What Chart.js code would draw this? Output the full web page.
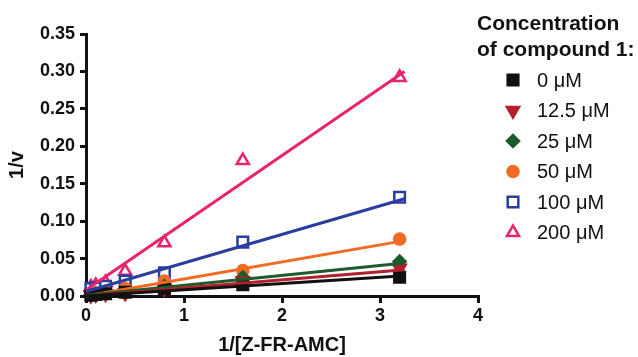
<!DOCTYPE html>
<html>
<head>
<meta charset="utf-8">
<script src="https://cdn.jsdelivr.net/npm/chart.js@4.4.1/dist/chart.umd.min.js"></script>
<style>
  html, body { margin: 0; padding: 0; background: #fff; }
  #wrap { width: 638px; height: 357px; }
</style>
</head>
<body>
<div id="wrap"><canvas id="chart" width="638" height="357"></canvas></div>
<script>
// 1/[Z-FR-AMC] values
const xVals = [0.05, 0.1, 0.2, 0.4, 0.8, 1.6, 3.2];

// 1/v for each inhibitor concentration
const conc = ['0 \u03BCM', '12.5 \u03BCM', '25 \u03BCM', '50 \u03BCM', '100 \u03BCM', '200 \u03BCM'];
const v0   = [0.001, 0.002, 0.003, 0.005, 0.010, 0.015, 0.025];
const v125 = [0.001, 0.002, 0.003, 0.004, 0.010, 0.020, 0.037];
const v25  = [0.002, 0.003, 0.004, 0.004, 0.013, 0.025, 0.046];
const v50  = [0.003, 0.004, 0.006, 0.010, 0.020, 0.034, 0.076];
const v100 = [0.010, 0.011, 0.013, 0.020, 0.031, 0.072, 0.132];
const v200 = [0.012, 0.014, 0.018, 0.033, 0.071, 0.181, 0.292];

// fitted lines, ends
const fitX = [0, 3.25];
const fit0   = [0.000, 0.027];
const fit125 = [0.000, 0.035];
const fit25  = [0.001, 0.044];
const fit50  = [0.000, 0.074];
const fit100 = [0.006, 0.130];
const fit200 = [0.008, 0.300];

const yTicks = [0, 0.05, 0.10, 0.15, 0.20, 0.25, 0.30, 0.35];

const colors = ['#111111', '#b3202b', '#1d5a2c', '#f26b22', '#2a3f9d', '#e8246e'];
const styles = [
  { pointStyle: 'rect', radius: 7.5, rotation: 0, fill: true },
  { pointStyle: 'triangle', radius: 7, rotation: 180, fill: true },
  { pointStyle: 'rectRot', radius: 6, rotation: 0, fill: true },
  { pointStyle: 'circle', radius: 5.5, rotation: 0, fill: true },
  { pointStyle: 'rect', radius: 7.5, rotation: 0, fill: false },
  { pointStyle: 'triangle', radius: 7, rotation: 0, fill: false }
];
const series = [v0, v125, v25, v50, v100, v200];
const fits = [fit0, fit125, fit25, fit50, fit100, fit200];

const FONT = "'Liberation Sans', Arial, sans-serif";

const datasets = [];
fits.forEach((f, i) => {
  datasets.push({
    label: 'fit ' + conc[i],
    data: fitX.map((x, j) => ({ x: x, y: f[j] })),
    showLine: true,
    borderColor: colors[i],
    borderWidth: 3,
    pointRadius: 0,
    fill: false,
    clip: false
  });
});
series.forEach((s, i) => {
  const st = styles[i];
  datasets.push({
    label: conc[i],
    data: xVals.map((x, j) => ({ x: x, y: s[j] })),
    showLine: false,
    pointStyle: st.pointStyle,
    pointRotation: st.rotation,
    pointRadius: st.radius,
    pointBorderWidth: 2.5,
    pointBorderColor: colors[i],
    pointBackgroundColor: st.fill ? colors[i] : '#ffffff',
    clip: false
  });
});

// legend drawn on the canvas, to the right of the plot
const sideLegend = {
  id: 'sideLegend',
  afterDraw(c) {
    const ctx = c.ctx;
    ctx.save();
    ctx.fillStyle = '#111';
    ctx.textBaseline = 'middle';
    ctx.textAlign = 'left';
    ctx.font = 'bold 21px ' + FONT;
    ctx.fillText('Concentration', 477, 24);
    ctx.fillText('of compound 1:', 477, 50);
    ctx.font = '20px ' + FONT;
    conc.forEach((lab, i) => {
      const y = 80 + i * 30.5;
      const st = styles[i];
      ctx.strokeStyle = colors[i];
      ctx.fillStyle = st.fill ? colors[i] : '#ffffff';
      ctx.lineWidth = 2.5;
      Chart.helpers.drawPoint(ctx, {
        pointStyle: st.pointStyle,
        radius: st.radius,
        rotation: st.rotation,
        borderWidth: 2.5
      }, 513, y);
      ctx.fillStyle = '#111';
      ctx.fillText(lab, 537, y + 1);
    });
    ctx.restore();
  }
};

chart = new Chart(document.getElementById('chart').getContext('2d'), {
  type: 'scatter',
  data: { datasets },
  plugins: [sideLegend],
  options: {
    responsive: false,
    animation: false,
    layout: { padding: { top: 34, right: 160, bottom: 0, left: 0 } },
    plugins: {
      legend: { display: false },
      tooltip: { enabled: false }
    },
    scales: {
      x: {
        type: 'linear',
        min: 0,
        max: 4,
        afterFit: (s) => { s.height = 61; },
        ticks: {
          stepSize: 1,
          color: '#111',
          padding: 2,
          font: { family: FONT, size: 18, weight: 'bold' }
        },
        grid: { display: true, drawOnChartArea: false, drawTicks: true, tickLength: 7, color: '#111', lineWidth: 3 },
        border: { display: true, color: '#111', width: 3 },
        title: {
          display: true,
          text: '1/[Z-FR-AMC]',
          color: '#111',
          padding: { top: 4, bottom: 0 },
          font: { family: FONT, size: 20, weight: 'bold' }
        }
      },
      y: {
        type: 'linear',
        min: 0,
        max: 0.35,
        afterFit: (s) => { s.width = 86; },
        afterBuildTicks: (s) => { s.ticks = yTicks.map(v => ({ value: v })); },
        ticks: {
          color: '#111',
          padding: 5,
          callback: (v) => Number(v).toFixed(2),
          font: { family: FONT, size: 18, weight: 'bold' }
        },
        grid: { display: true, drawOnChartArea: false, drawTicks: true, tickLength: 6, color: '#111', lineWidth: 3 },
        border: { display: true, color: '#111', width: 3 },
        title: {
          display: true,
          text: '1/v',
          color: '#111',
          padding: { top: 5, bottom: 0 },
          font: { family: FONT, size: 20, weight: 'bold' }
        }
      }
    }
  }
});
</script>
</body>
</html>
